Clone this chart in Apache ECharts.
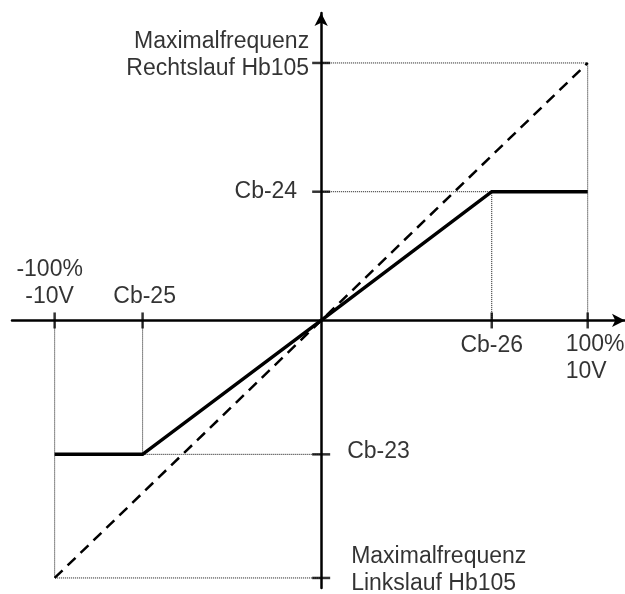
<!DOCTYPE html>
<html>
<head>
<meta charset="utf-8">
<script src="https://cdn.jsdelivr.net/npm/echarts@6/dist/echarts.min.js"></script>
<style>
  html, body { margin: 0; padding: 0; background: #fff; }
  #chart { width: 625px; height: 594px; }
</style>
</head>
<body>
<div id="chart"></div>
<script>
// Kennwerte in % (Eingang / Frequenz)
var eingangMax = 100;      // 100% / 10V
var freqMax = 100;         // Maximalfrequenz Hb105
var cb23 = -52;            // Frequenz bei Cb-25
var cb24 = 50;             // Frequenz bei Cb-26
var cb25 = -67;            // Eingang unten
var cb26 = 64;             // Eingang oben

var kennlinie = [[-eingangMax, cb23], [cb25, cb23], [0, 0], [cb26, cb24], [eingangMax, cb24]];
var diagonale = [[-eingangMax, -freqMax], [eingangMax, freqMax]];

var xTickValues = [-eingangMax, cb25, cb26, eingangMax];
var xTickLabels = ['-100%\n-10V', 'Cb-25', 'Cb-26', '100%\n10V'];
var yTickValues = [freqMax, cb24, cb23, -freqMax];
var yTickLabels = ['Maximalfrequenz\nRechtslauf Hb105', 'Cb-24', 'Cb-23', 'Maximalfrequenz\nLinkslauf Hb105'];

// gepunktete Hilfslinien
var hilfslinien = [
  [[0, freqMax], [eingangMax, freqMax], [eingangMax, 0]],
  [[0, cb24], [cb26, cb24], [cb26, 0]],
  [[-eingangMax, 0], [-eingangMax, -freqMax], [0, -freqMax]],
  [[cb25, 0], [cb25, cb23], [0, cb23]]
];

var FONT = '"Liberation Sans", Arial, sans-serif';

// Label-Platzierung je Tick (nur Stil)
var xLabelStyle = [
  { position: 'top', distance: 10, offset: [-5, 0] },
  { position: 'top', distance: 10, offset: [2, 0] },
  { position: 'bottom', distance: 12, offset: [0, 0] },
  { position: 'bottom', distance: 11, offset: [-22, 0], align: 'left' }
];
var yLabelStyle = [
  { position: 'left', distance: 12, offset: [0, -8], align: 'right' },
  { position: 'left', distance: 24, offset: [0, 0] },
  { position: 'right', distance: 26, offset: [0, -3] },
  { position: 'right', distance: 30, offset: [0, -8], align: 'left' }
];

function labelPoints(values, labels, styles, isX) {
  return values.map(function (v, i) {
    var s = styles[i];
    var lab = {
      show: true,
      formatter: labels[i],
      position: s.position,
      distance: s.distance,
      offset: s.offset,
      color: '#000',
      fontFamily: FONT,
      fontSize: 23,
      lineHeight: 27
    };
    if (s.align) lab.align = s.align;
    return { value: isX ? [v, 0] : [0, v], label: lab };
  });
}

var series = [];

hilfslinien.forEach(function (pts) {
  series.push({
    type: 'line', data: pts, symbol: 'none', silent: true, z: 1,
    lineStyle: { color: '#111', width: 1, type: 'dotted' }
  });
});

series.push({
  type: 'line', data: diagonale, symbol: 'none', silent: true, z: 2,
  lineStyle: { color: '#000', width: 2.5, type: [11, 7] }
});

series.push({
  type: 'line', data: kennlinie, symbol: 'none', silent: true, z: 3,
  lineStyle: { color: '#000', width: 3.5, join: 'miter' }
});

// Striche an den Achsen
series.push({
  type: 'scatter', silent: true, z: 4,
  symbol: 'rect', symbolSize: [2.5, 16],
  itemStyle: { color: '#000' },
  data: xTickValues.map(function (v) { return [v, 0]; })
});
series.push({
  type: 'scatter', silent: true, z: 4,
  symbol: 'rect', symbolSize: [18, 2.5],
  itemStyle: { color: '#000' },
  data: yTickValues.map(function (v) { return [0, v]; })
});

// Beschriftungen
series.push({
  type: 'scatter', silent: true, z: 5, symbolSize: 0,
  data: labelPoints(xTickValues, xTickLabels, xLabelStyle, true)
});
series.push({
  type: 'scatter', silent: true, z: 5, symbolSize: 0,
  data: labelPoints(yTickValues, yTickLabels, yLabelStyle, false)
});

var chart = echarts.init(document.getElementById('chart'), null, { renderer: 'canvas' });
chart.setOption({
  animation: false,
  backgroundColor: '#fff',
  grid: { left: 12, right: 0, top: 13, bottom: 6, containLabel: false },
  xAxis: {
    type: 'value', min: -116, max: 114,
    axisLine: {
      show: true, onZero: true,
      symbol: ['none', 'arrow'], symbolSize: [10, 13],
      lineStyle: { color: '#000', width: 2.5 }
    },
    axisTick: { show: false }, axisLabel: { show: false }, splitLine: { show: false }
  },
  yAxis: {
    type: 'value', min: -103.9, max: 119.4,
    axisLine: {
      show: true, onZero: true,
      symbol: ['none', 'arrow'], symbolSize: [10, 13],
      lineStyle: { color: '#000', width: 2.5 }
    },
    axisTick: { show: false }, axisLabel: { show: false }, splitLine: { show: false }
  },
  series: series
});
</script>
</body>
</html>
